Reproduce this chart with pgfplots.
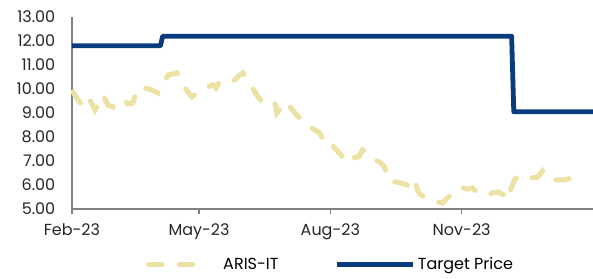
\documentclass[border=0pt]{standalone}
\usepackage{fontspec}
\setmainfont{Poppins}
\usepackage{pgfplots}
\pgfplotsset{compat=1.18}
\definecolor{tpblue}{RGB}{8,60,125}
\definecolor{pricebeige}{RGB}{236,226,164}
\definecolor{axgray}{RGB}{128,128,128}
\pgfplotsset{
  legA/.style={legend image code/.code={\draw[##1] (0pt,0pt) -- (43pt,0pt); \path (52pt,0pt);}},
  legB/.style={legend image code/.code={\draw[##1] (0pt,0pt) -- (57pt,0pt);}},
}
\begin{document}
\begin{tikzpicture}
\begin{axis}[
  name=ax,
  scale only axis,
  width=390.75pt, height=144pt,
  xmin=0, xmax=365, ymin=5, ymax=13,
  axis x line=bottom, axis y line=left,
  axis line style={axgray, line width=1.1pt, -},
  xtick={0,89,181,273},
  xticklabels={Feb-23,May-23,Aug-23,Nov-23},
  ytick={5,6,...,13},
  yticklabel style={/pgf/number format/.cd, fixed, fixed zerofill, precision=2},
  /pgf/number format/assume math mode=true,
  tick label style={font=\fontsize{12}{14}\selectfont, text=black!85},
  ytick style={draw=none},
  xtick style={axgray, line width=1pt},
  tick align=outside,
  major tick length=4pt,
  yticklabel shift=5pt,
  xticklabel shift=3.5pt,
  legend style={draw=none, fill=none, at={(0.497,-0.29)}, anchor=center, legend columns=2,
    font=\fontsize{12}{14}\selectfont, /tikz/every even column/.append style={column sep=40pt}},
  legend cell align=left,
  clip=false,
]
\addplot[pricebeige, line width=3.8pt, line cap=round, dash pattern=on 10pt off 13pt, legA] coordinates {
(0.7,9.875) (4.2,9.54) (7.0,9.33) (9.8,9.21) (12.6,9.54) (16.1,9.13) (18.9,9.46) (21.7,9.75)
(25.2,9.33) (28.7,9.25) (32.2,9.46) (35.7,9.58) (39.2,9.38) (42.7,9.42) (44.8,9.83) (46.2,10.04)
(51.1,10.04) (56.0,9.96) (60.2,9.83) (63.7,10.17) (67.2,10.58) (70.7,10.63) (73.5,10.67) (76.3,10.38)
(77.7,10.17) (81.2,9.88) (84.0,9.67) (87.5,9.83) (91.0,9.96) (95.2,10.08) (98.7,10.17) (100.8,10.04)
(103.6,10.33) (109.2,10.29) (114.1,10.38) (117.6,10.58) (119.7,10.67) (123.9,10.29) (128.1,9.88)
(130.9,9.63) (133.7,9.42) (137.9,9.46) (142.1,9.46) (143.5,9.0) (147.0,9.25) (150.5,9.46) (153.3,9.21)
(156.1,9.0) (159.6,8.79) (163.1,8.58) (168.0,8.38) (173.5,8.17) (177.0,7.75) (180.5,7.79) (184.7,7.5)
(189.6,7.17) (193.8,6.92) (196.6,7.13) (200.8,7.17) (203.6,7.46) (208.5,7.29) (212.7,7.04) (216.2,6.92)
(219.0,6.75) (220.4,6.42) (222.5,6.13) (226.7,6.13) (231.0,6.08) (234.4,6.0) (237.9,5.92) (240.0,6.21)
(242.1,5.79) (243.5,5.63) (247.7,5.46) (252.6,5.38) (256.1,5.29) (259.6,5.25) (263.1,5.46) (266.6,5.67)
(270.1,5.88) (273.6,5.88) (277.1,5.83) (280.6,5.88) (284.1,5.67) (287.6,5.63) (290.4,5.58) (294.6,5.67)
(298.1,5.71) (303.0,5.58) (304.4,5.38) (307.2,5.79) (310.0,6.21) (313.5,6.42) (318.4,6.33) (321.9,6.29)
(326.1,6.33) (329.6,6.58) (332.4,6.33) (336.6,6.21) (340.8,6.21) (345.0,6.21) (349.9,6.29) (354.1,6.04)
};
\addlegendentry{ARIS-IT}
\addplot[tpblue, line width=3.6pt, line join=round, legB] coordinates {
(0,11.8) (62,11.8) (63.5,12.2) (308,12.2) (309.5,9.05) (365,9.05)
};
\addlegendentry{Target Price}
\end{axis}
\pgfresetboundingbox
\path[use as bounding box] ([xshift=-54pt,yshift=-52.5pt]ax.south west) rectangle ([yshift=12.75pt]ax.north east);
\end{tikzpicture}
\end{document}
